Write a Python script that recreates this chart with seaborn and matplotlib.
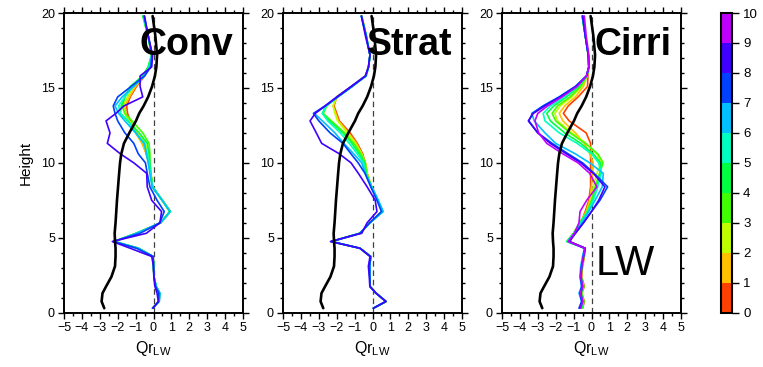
import numpy as np
import pandas as pd
import matplotlib
matplotlib.use("Agg")
import matplotlib.pyplot as plt
import matplotlib as mpl
from matplotlib.ticker import MultipleLocator
import seaborn as sns

# vertical levels (km)
height = [0.3, 0.75, 1.3, 1.75, 2.4, 3.1, 3.75, 4.3, 4.75, 5.3, 6.0, 6.75, 7.5,
          8.4, 9.3, 10.0, 10.6, 11.3, 12.0, 12.8, 13.3, 13.8, 14.4, 15.1, 15.8,
          16.4, 17.2, 18.5, 19.8]

# reference (all-sky mean) profile, drawn in black
qr_ref = [-2.75, -2.9, -2.85, -2.65, -2.35, -2.15, -2.12, -2.12, -2.15, -2.17,
          -2.12, -2.08, -2.04, -1.98, -1.92, -1.87, -1.8, -1.65, -1.35, -0.98,
          -0.8, -0.55, -0.3, -0.08, 0.08, 0.16, 0.2, 0.1, -0.05]

# colour-bin profiles for each cloud regime (bin 0 .. bin n)
conv_lines = [
    [-0.05, 0.30, 0.35, 0.15, 0.03, 0.00, -0.02, -0.85, -2.20, -0.95, 0.40, 0.95, 0.50, -0.05, -0.15, -0.25, -0.40, -0.60, -0.95, -1.30, -1.45, -1.50, -1.30, -0.95, -0.50, -0.25, -0.10, -0.30, -0.55],
    [-0.05, 0.32, 0.36, 0.14, 0.03, 0.00, -0.02, -0.85, -2.20, -0.95, 0.40, 0.92, 0.48, -0.05, -0.15, -0.25, -0.40, -0.65, -1.00, -1.40, -1.55, -1.60, -1.35, -1.00, -0.50, -0.25, -0.10, -0.30, -0.55],
    [-0.05, 0.30, 0.34, 0.14, 0.03, 0.00, -0.02, -0.85, -2.20, -0.95, 0.40, 0.90, 0.48, -0.05, -0.15, -0.20, -0.30, -0.45, -0.85, -1.35, -1.60, -1.70, -1.45, -1.10, -0.55, -0.25, -0.10, -0.32, -0.55],
    [-0.05, 0.30, 0.34, 0.14, 0.03, 0.00, -0.02, -0.85, -2.20, -0.95, 0.40, 0.90, 0.48, -0.05, -0.15, -0.20, -0.20, -0.25, -0.60, -1.20, -1.60, -1.75, -1.60, -1.25, -0.60, -0.30, -0.10, -0.32, -0.58],
    [-0.05, 0.30, 0.34, 0.14, 0.03, 0.00, -0.02, -0.85, -2.20, -0.95, 0.40, 0.92, 0.50, -0.05, -0.15, -0.20, -0.25, -0.35, -0.80, -1.45, -1.85, -1.80, -1.60, -1.30, -0.60, -0.30, -0.10, -0.32, -0.60],
    [-0.05, 0.32, 0.36, 0.15, 0.03, 0.00, -0.02, -0.85, -2.20, -0.95, 0.40, 0.95, 0.50, -0.05, -0.18, -0.25, -0.35, -0.55, -1.00, -1.40, -1.85, -1.95, -1.60, -1.15, -0.55, -0.25, -0.10, -0.30, -0.55],
    [-0.05, 0.32, 0.36, 0.15, 0.03, 0.00, -0.02, -0.85, -2.20, -0.95, 0.40, 0.92, 0.48, -0.08, -0.20, -0.30, -0.40, -0.50, -1.00, -1.60, -1.95, -2.15, -1.75, -1.10, -0.50, -0.20, -0.10, -0.30, -0.55],
    [-0.05, 0.28, 0.30, 0.12, 0.02, 0.00, -0.02, -0.95, -2.25, -0.75, 0.35, 0.60, 0.20, -0.20, -0.35, -0.45, -0.85, -1.10, -1.60, -2.00, -2.15, -2.25, -2.00, -1.25, -0.50, -0.15, -0.08, -0.30, -0.52],
    [-0.02, 0.27, 0.20, 0.08, 0.02, 0.00, -0.10, -1.30, -2.30, -0.40, 0.36, 0.45, -0.10, -0.35, -0.38, -1.10, -1.85, -2.58, -2.43, -2.65, -2.10, -1.65, -0.60, -0.75, -0.75, -0.10, -0.05, -0.30, -0.50],
]

strat_lines = [
    [0.05, 0.75, 0.20, -0.14, -0.15, -0.16, -0.10, -0.70, -2.30, -0.70, -0.15, 0.55, 0.30, -0.05, -0.30, -0.40, -0.55, -0.85, -1.25, -1.85, -2.00, -2.15, -2.00, -1.15, -0.40, -0.22, -0.14, -0.35, -0.60],
    [0.05, 0.75, 0.20, -0.14, -0.15, -0.16, -0.10, -0.70, -2.30, -0.70, -0.15, 0.55, 0.30, -0.05, -0.30, -0.40, -0.60, -0.90, -1.35, -1.90, -2.05, -2.20, -2.00, -1.15, -0.40, -0.22, -0.14, -0.35, -0.60],
    [0.05, 0.75, 0.20, -0.14, -0.15, -0.16, -0.10, -0.70, -2.30, -0.70, -0.15, 0.52, 0.28, -0.05, -0.30, -0.40, -0.60, -0.95, -1.40, -1.95, -2.10, -2.20, -2.00, -1.15, -0.40, -0.22, -0.14, -0.35, -0.60],
    [0.05, 0.75, 0.20, -0.14, -0.15, -0.16, -0.10, -0.70, -2.30, -0.70, -0.15, 0.55, 0.30, -0.05, -0.35, -0.40, -0.65, -1.05, -1.55, -2.30, -2.75, -2.55, -1.95, -1.15, -0.38, -0.22, -0.14, -0.36, -0.62],
    [0.05, 0.75, 0.20, -0.14, -0.15, -0.16, -0.10, -0.70, -2.30, -0.70, -0.15, 0.55, 0.30, -0.05, -0.35, -0.45, -0.75, -1.15, -1.65, -2.40, -2.80, -2.60, -1.95, -1.15, -0.38, -0.22, -0.14, -0.36, -0.62],
    [0.05, 0.75, 0.20, -0.14, -0.15, -0.16, -0.10, -0.70, -2.30, -0.70, -0.15, 0.58, 0.32, -0.05, -0.40, -0.50, -0.85, -1.30, -1.80, -2.50, -2.80, -2.60, -1.95, -1.15, -0.38, -0.22, -0.14, -0.36, -0.62],
    [0.05, 0.75, 0.20, -0.14, -0.15, -0.16, -0.10, -0.70, -2.30, -0.70, -0.15, 0.60, 0.32, -0.05, -0.40, -0.60, -1.05, -1.60, -2.10, -2.80, -3.25, -2.60, -1.93, -1.13, -0.35, -0.22, -0.14, -0.36, -0.62],
    [0.05, 0.75, 0.20, -0.14, -0.15, -0.16, -0.10, -0.70, -2.30, -0.70, -0.15, 0.50, 0.25, -0.10, -0.42, -0.80, -1.20, -1.65, -2.37, -3.00, -3.30, -2.65, -1.95, -1.15, -0.38, -0.22, -0.14, -0.36, -0.62],
    [0.05, 0.75, 0.20, -0.15, -0.18, -0.23, -0.14, -0.70, -2.35, -0.60, -0.30, 0.25, 0.15, -0.30, -0.79, -1.20, -1.85, -2.84, -3.14, -3.49, -3.20, -2.65, -2.00, -1.20, -0.40, -0.23, -0.14, -0.40, -0.62],
]

cirri_lines = [
    [-0.50, -0.40, -0.55, -0.40, -0.55, -0.50, -0.40, -0.35, -1.20, -0.95, -0.60, -0.35, -0.15, -0.05, -0.05, -0.05, -0.05, -0.05, -0.30, -1.25, -1.57, -1.30, -0.75, -0.22, -0.20, -0.15, -0.18, -0.35, -0.50],
    [-0.55, -0.45, -0.60, -0.45, -0.60, -0.55, -0.45, -0.35, -1.30, -1.00, -0.65, -0.30, -0.10, 0.00, 0.05, 0.10, -0.10, -0.40, -0.90, -1.60, -1.80, -1.50, -0.90, -0.45, -0.25, -0.15, -0.18, -0.35, -0.50],
    [-0.55, -0.45, -0.60, -0.45, -0.60, -0.55, -0.45, -0.35, -1.30, -1.00, -0.65, -0.25, 0.00, 0.10, 0.30, 0.55, 0.30, -0.30, -1.10, -1.90, -2.05, -1.75, -1.10, -0.55, -0.25, -0.15, -0.18, -0.35, -0.50],
    [-0.50, -0.42, -0.55, -0.42, -0.58, -0.52, -0.42, -0.35, -1.35, -1.00, -0.65, -0.25, 0.00, 0.20, 0.45, 0.65, 0.35, -0.35, -1.20, -2.00, -2.20, -1.90, -1.20, -0.60, -0.25, -0.15, -0.18, -0.35, -0.52],
    [-0.55, -0.45, -0.60, -0.45, -0.60, -0.55, -0.45, -0.35, -1.40, -1.00, -0.65, -0.20, 0.05, 0.30, 0.50, 0.50, 0.10, -0.60, -1.50, -2.30, -2.50, -2.10, -1.40, -0.70, -0.25, -0.15, -0.18, -0.35, -0.52],
    [-0.60, -0.50, -0.65, -0.50, -0.62, -0.58, -0.48, -0.38, -1.35, -0.95, -0.60, -0.20, 0.10, 0.35, 0.55, 0.40, 0.00, -0.80, -1.80, -2.60, -2.70, -2.30, -1.50, -0.80, -0.27, -0.15, -0.18, -0.35, -0.52],
    [-0.65, -0.55, -0.70, -0.55, -0.65, -0.60, -0.50, -0.40, -1.30, -0.95, -0.55, -0.15, 0.20, 0.60, 0.66, -0.10, -0.90, -2.00, -2.60, -3.20, -3.34, -2.70, -1.80, -0.90, -0.28, -0.15, -0.18, -0.35, -0.52],
    [-0.70, -0.55, -0.65, -0.55, -0.62, -0.55, -0.45, -0.35, -1.25, -0.90, -0.45, 0.00, 0.47, 0.90, 0.15, -0.50, -1.30, -2.20, -3.00, -3.50, -3.30, -2.70, -1.80, -0.90, -0.28, -0.15, -0.18, -0.35, -0.50],
    [-0.65, -0.50, -0.60, -0.50, -0.60, -0.55, -0.45, -0.35, -1.25, -0.90, -0.45, 0.00, 0.40, 0.75, 0.10, -0.60, -1.40, -2.30, -3.00, -3.53, -3.25, -2.60, -1.75, -0.85, -0.28, -0.15, -0.18, -0.35, -0.48],
    [-0.60, -0.50, -0.62, -0.50, -0.60, -0.55, -0.45, -0.38, -1.30, -0.95, -0.70, -0.64, -0.27, 0.30, -0.10, -0.75, -1.60, -2.50, -2.95, -3.16, -3.00, -2.45, -1.65, -0.80, -0.28, -0.15, -0.15, -0.30, -0.40],
]

panel_titles = ["Conv", "Strat", "Cirri"]
bin_colors = ["#ff4000", "#ffc000", "#c0ff00", "#40ff00", "#00ff40",
              "#00ffc0", "#00c0ff", "#0040ff", "#4000ff", "#c000ff"]
bin_edges = list(range(11))
x_ticks = list(range(-5, 6))
y_ticks = [0, 5, 10, 15, 20]

sns.set_style("white")
plt.rcParams["font.family"] = ["Liberation Sans", "DejaVu Sans"]
plt.rcParams["mathtext.fontset"] = "custom"
plt.rcParams["mathtext.rm"] = "Liberation Sans"
plt.rcParams["text.color"] = "black"
plt.rcParams["axes.labelcolor"] = "black"
plt.rcParams["xtick.color"] = "black"
plt.rcParams["ytick.color"] = "black"
plt.rcParams["axes.edgecolor"] = "black"

W, H = 763, 367
fig = plt.figure(figsize=(W / 100, H / 100), dpi=100)

panel_left = [64, 283, 502]
panel_w = 179
ax_bottom = 1 - 312.7 / H
ax_height = (312.7 - 13) / H


def long_table(lines):
    return pd.DataFrame({
        "height": np.tile(height, len(lines)),
        "qr": np.concatenate([np.asarray(v, float) for v in lines]),
        "bin": np.repeat(np.arange(len(lines)), len(height)),
    })


for i, (lines, title) in enumerate(zip([conv_lines, strat_lines, cirri_lines], panel_titles)):
    ax = fig.add_axes([panel_left[i] / W, ax_bottom, panel_w / W, ax_height])
    ax.axvline(0, ymin=0, ymax=1, color="0.25", lw=0.9, ls=(0, (4.5, 3)), zorder=1)
    df = long_table(lines)
    pal = {b: bin_colors[b] for b in range(len(lines))}
    sns.lineplot(data=df, x="qr", y="height", hue="bin", palette=pal,
                 orient="y", estimator=None, sort=True, legend=False,
                 linewidth=1.2, ax=ax, zorder=2)
    sns.lineplot(x=qr_ref, y=height, orient="y", estimator=None, sort=True,
                 color="black", linewidth=1.9, ax=ax, zorder=3)

    ax.set_xlim(-5, 5)
    ax.set_ylim(0, 20)
    ax.set_xticks(x_ticks)
    ax.set_yticks(y_ticks)
    ax.xaxis.set_minor_locator(MultipleLocator(0.5))
    ax.yaxis.set_minor_locator(MultipleLocator(1))
    ax.tick_params(which="both", direction="out", top=True, right=True,
                   bottom=True, left=True, width=1.0, colors="black",
                   labelsize=9, pad=2)
    ax.tick_params(which="major", length=4.5)
    ax.tick_params(which="minor", length=2.5)
    for s in ax.spines.values():
        s.set_linewidth(1.4)
        s.set_color("black")
    ax.set_xlabel(r"Qr$_{\rm LW}$", fontsize=11.5, labelpad=4, color="black")
    if i == 0:
        ax.set_ylabel("Height", fontsize=11, labelpad=6, color="black")
    else:
        ax.set_ylabel("")
    ax.text(0.945, 0.86, title, transform=ax.transAxes, ha="right",
            va="baseline", fontsize=27, fontweight="bold", color="black",
            zorder=5)
    if i == 2:
        ax.text(0.525, 0.126, "LW", transform=ax.transAxes, ha="left",
                va="baseline", fontsize=30, color="black", zorder=5)

cax = fig.add_axes([721 / W, ax_bottom, 11 / W, ax_height])
cmap = mpl.colors.ListedColormap(bin_colors)
norm = mpl.colors.BoundaryNorm(bin_edges, cmap.N)
cb = mpl.colorbar.ColorbarBase(cax, cmap=cmap, norm=norm, ticks=bin_edges,
                               orientation="vertical")
cb.outline.set_linewidth(1.5)
cb.outline.set_edgecolor("black")
cax.tick_params(direction="out", length=5, width=1.0, labelsize=9.5, pad=3,
                colors="black")

fig.savefig("out.png", dpi=100)
